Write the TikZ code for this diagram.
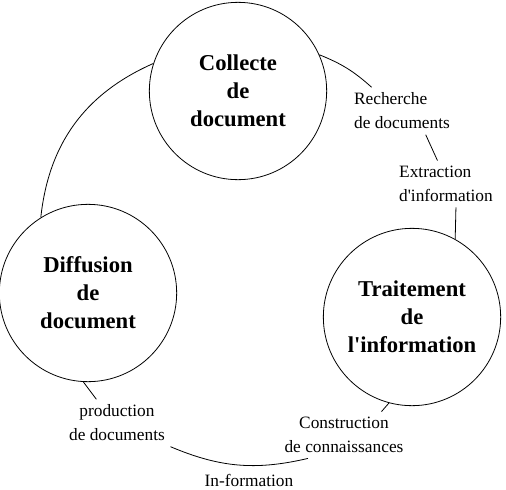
\documentclass[tikz,border=0pt]{standalone}
\usepackage{fontspec}
\setmainfont{Liberation Serif}[Ligatures=TeXOff]

\begin{document}
\begin{tikzpicture}[
    x=0.75pt, y=-0.75pt,
    every node/.style={font=\fontsize{13}{18}\selectfont},
    phase/.style={circle, draw, line width=0.6pt, minimum size=133pt,
        inner sep=0pt, align=center,
        font=\bfseries\fontsize{17}{21}\selectfont},
    note/.style={inner sep=4pt},
    link/.style={line width=0.6pt}
]
\useasboundingbox (0,0) rectangle (506,489);

% ============================================================
% Die drei Phasen
% ============================================================
\node[phase] (Collecte) at (238,91) {Collecte\\de\\document};
\node[phase] (Diffusion) at (88,293) {Diffusion\\de\\document};
\node[phase] (Traitement) at (412,317) {Traitement\\de\\l'information};

% ============================================================
% Beschriftungen der Übergänge
% ============================================================
\node[note, align=left] (Recherche) at (402,111) {Recherche\\de documents};
\node[note, align=left] (Extraction) at (446,184) {Extraction\\d'information};
\node[note, align=center] (Construction) at (344,435) {Construction\\de connaissances};
\node[note, align=center] (Production) at (117,423) {production\\de documents};
\node[note] (Information) at (249,480) {In-formation};

% ============================================================
% Verbindungen (Kreislauf)
% ============================================================
\draw[link] (Collecte.24) to[bend left=10] (Recherche.142);
\draw[link] (Recherche.-45) -- (Extraction.110);
\draw[link] (Extraction.-67) -- (Traitement.61);
\draw[link] (Traitement.-105) -- (Construction.32);
\draw[link] (Construction.-147) to[bend left=18] (Production.south east);
\draw[link] (Production.131) -- (Diffusion.-93);
\draw[link] (Diffusion.122) to[bend left=30] (Collecte.162);

\end{tikzpicture}
\end{document}
